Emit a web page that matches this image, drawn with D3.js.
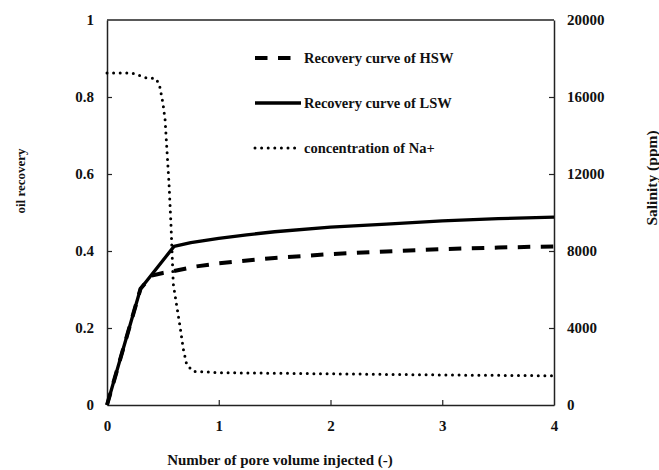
<!DOCTYPE html>
<html>
<head>
<meta charset="utf-8">
<script src="https://cdn.jsdelivr.net/npm/d3@7"></script>
<style>
  body { margin: 0; background: #fff; }
</style>
</head>
<body>
<div id="chart"></div>
<script>
// pore volume injected vs oil recovery (left axis)
var lswData = [[0, 0], [0.3, 0.302], [0.6, 0.412], [0.75, 0.422], [1, 0.433], [1.25, 0.442],
  [1.5, 0.45], [2, 0.462], [2.5, 0.47], [3, 0.478], [3.5, 0.484], [4, 0.488]];
var hswData = [[0, 0], [0.3, 0.302], [0.4, 0.336], [0.5, 0.343], [0.6, 0.348], [0.8, 0.36],
  [1, 0.368], [1.5, 0.382], [2, 0.392], [2.5, 0.399], [3, 0.405], [3.5, 0.409], [4, 0.412]];
// Na+ concentration, ppm (right axis)
var naData = [[0, 17250], [0.22, 17250], [0.3, 17100], [0.35, 17000], [0.44, 16950], [0.47, 16600],
  [0.5, 15700], [0.52, 14800], [0.54, 12900], [0.555, 11500], [0.573, 9300], [0.593, 6300],
  [0.62, 5300], [0.653, 4100], [0.683, 2900], [0.713, 2100], [0.77, 1750], [1, 1680],
  [2, 1620], [3, 1560], [4, 1520]];

var xTicks = [0, 1, 2, 3, 4];
var yTicks = [0, 0.2, 0.4, 0.6, 0.8, 1];
var y2Ticks = [0, 4000, 8000, 12000, 16000, 20000];

var legendItems = [
  { label: "Recovery curve of HSW", style: "dash" },
  { label: "Recovery curve of LSW", style: "solid" },
  { label: "concentration of Na+", style: "dot" }
];

var width = 659, height = 470;
var margin = { top: 20, right: 105, bottom: 65, left: 107 };
var FONT = '"Liberation Serif", "Times New Roman", serif';

var svg = d3.select("#chart").append("svg")
  .attr("width", width)
  .attr("height", height);

var x = d3.scaleLinear().domain([0, 4]).range([margin.left, width - margin.right]);
var y = d3.scaleLinear().domain([0, 1]).range([height - margin.bottom, margin.top]);
var y2 = d3.scaleLinear().domain([0, 20000]).range([height - margin.bottom, margin.top]);

var styles = {
  dash: { w: 4, dash: "12.5 10.5", cap: "butt" },
  solid: { w: 3.3, dash: null, cap: "butt" },
  dot: { w: 3, dash: "0 6.6", cap: "round" }
};

function font(sel, size) {
  sel.style("font-family", FONT).style("font-weight", "bold")
    .style("font-size", size + "px").attr("fill", "#111");
}

// frame top line
svg.append("line")
  .attr("x1", x(0)).attr("x2", x(4))
  .attr("y1", y(1)).attr("y2", y(1))
  .attr("stroke", "#222").attr("stroke-width", 1.5);

var xAxis = svg.append("g")
  .attr("transform", "translate(0," + y(0) + ")")
  .call(d3.axisBottom(x).tickValues(xTicks).tickFormat(d3.format("d")).tickSizeInner(-5).tickSizeOuter(0).tickPadding(12));

var yAxis = svg.append("g")
  .attr("transform", "translate(" + x(0) + ",0)")
  .call(d3.axisLeft(y).tickValues(yTicks).tickFormat(function(d) { return d === 0 || d === 1 ? d : d3.format(".1f")(d); })
    .tickSizeInner(-5).tickSizeOuter(0).tickPadding(13));

var y2Axis = svg.append("g")
  .attr("transform", "translate(" + x(4) + ",0)")
  .call(d3.axisRight(y2).tickValues(y2Ticks).tickFormat(d3.format("d")).tickSizeInner(-5).tickSizeOuter(0).tickPadding(13));

[xAxis, yAxis, y2Axis].forEach(function(g) {
  g.attr("font-family", null).attr("font-size", null);
  g.select(".domain").attr("stroke", "#222").attr("stroke-width", 1.5);
  g.selectAll(".tick line").attr("stroke", "#222").attr("stroke-width", 1.2);
  font(g.selectAll(".tick text"), 15);
});
xAxis.selectAll(".tick text").attr("dy", "0.9em");
xAxis.selectAll(".tick line").filter(function(d) { return d === 0 || d === 4; }).remove();
yAxis.selectAll(".tick line").filter(function(d) { return d === 0 || d === 1; }).remove();
y2Axis.selectAll(".tick line").filter(function(d) { return d === 0 || d === 20000; }).remove();

var line = d3.line().x(function(d) { return x(d[0]); }).y(function(d) { return y(d[1]); });
var line2 = d3.line().x(function(d) { return x(d[0]); }).y(function(d) { return y2(d[1]); });

function draw(path, s) {
  var st = styles[s];
  path.attr("fill", "none").attr("stroke", "#000")
    .attr("stroke-width", st.w)
    .attr("stroke-linecap", st.cap)
    .attr("stroke-linejoin", "round");
  if (st.dash) path.attr("stroke-dasharray", st.dash);
}

draw(svg.append("path").datum(hswData).attr("d", line), "dash");
draw(svg.append("path").datum(lswData).attr("d", line), "solid");
draw(svg.append("path").datum(naData).attr("d", line2), "dot");

// legend
var legend = svg.append("g");
legendItems.forEach(function(item, i) {
  var ly = 58 + i * 45;
  var len = item.style === "dash" ? 36 : (item.style === "solid" ? 46 : 44);
  draw(legend.append("path").attr("d", "M255," + ly + "H" + (255 + len)), item.style);
  legend.append("text")
    .attr("x", 304).attr("y", ly + 5)
    .call(font, 14.5)
    .text(item.label);
});

// axis titles
svg.append("text")
  .attr("transform", "translate(25,181) rotate(-90)")
  .attr("text-anchor", "middle")
  .call(font, 13)
  .text("oil recovery");

svg.append("text")
  .attr("transform", "translate(657,178) rotate(-90)")
  .attr("text-anchor", "middle")
  .call(font, 15.5)
  .text("Salinity (ppm)");

svg.append("text")
  .attr("x", 280).attr("y", 465)
  .attr("text-anchor", "middle")
  .call(font, 15)
  .text("Number of pore volume injected (-)");
</script>
</body>
</html>
